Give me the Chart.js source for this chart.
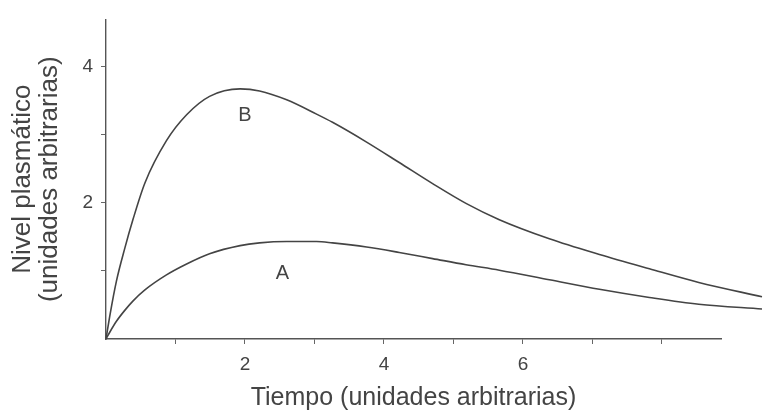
<!DOCTYPE html>
<html>
<head>
<meta charset="utf-8">
<script src="https://cdn.jsdelivr.net/npm/chart.js@4"></script>
<style>
  html, body { margin: 0; padding: 0; background: #fff; }
  #wrap { width: 763px; height: 417px; }
</style>
</head>
<body>
<div id="wrap"><canvas id="chart"></canvas></div>
<script>
// time points (arbitrary units)
const tiempo = [0, 0.06, 0.15, 0.27, 0.39, 0.56, 0.87, 1.16, 1.49, 1.93, 2.21, 2.6, 3.03, 3.26, 3.75, 4.22, 4.7, 5.18, 5.66, 6.38, 7.1, 7.82, 8.53, 9.44];
const nivelA = [0, 0.11, 0.26, 0.42, 0.56, 0.72, 0.94, 1.10, 1.25, 1.37, 1.41, 1.43, 1.43, 1.41, 1.35, 1.27, 1.18, 1.09, 1.01, 0.87, 0.73, 0.61, 0.51, 0.44];
const nivelB = [0, 0.37, 0.85, 1.33, 1.76, 2.29, 2.91, 3.29, 3.56, 3.67, 3.64, 3.51, 3.30, 3.18, 2.89, 2.59, 2.28, 1.99, 1.75, 1.47, 1.24, 1.03, 0.83, 0.62];

const xTicks = [1, 2, 3, 4, 5, 6, 7, 8];
const xLabels = [2, 4, 6];
const yTicks = [1, 2, 3, 4];
const yLabels = [2, 4];

// curve names drawn inside the plot
const curveNames = ["A", "B"];
const namePosX = [2.54, 2.0];
const namePosY = [0.96, 3.28];

const xEnd = 8.85;  // drawn time axis stops here, curves run on past it
const yEnd = 4.69;

Chart.defaults.font.family = '"Liberation Sans", Arial, Helvetica, sans-serif';
Chart.defaults.color = "#444";

const ink = "#444";

const curveNamesPlugin = {
    id: "curveNames",
    afterDatasetsDraw(chart) {
        const { ctx, scales: { x, y } } = chart;
        ctx.save();
        ctx.font = '20px "Liberation Sans", Arial, sans-serif';
        ctx.fillStyle = "#444";
        ctx.textAlign = "center";
        ctx.textBaseline = "middle";
        curveNames.forEach((name, i) => {
            ctx.fillText(name, x.getPixelForValue(namePosX[i]), y.getPixelForValue(namePosY[i]));
        });
        ctx.restore();
    }
};

function toPoints(values) {
    return tiempo.map((t, i) => ({ x: t, y: values[i] }));
}

new Chart(document.getElementById("chart"), {
    type: "line",
    data: {
        datasets: [
            { label: "A", data: toPoints(nivelA) },
            { label: "B", data: toPoints(nivelB) }
        ].map(ds => Object.assign(ds, {
            borderColor: ink,
            borderWidth: 1.6,
            pointRadius: 0,
            fill: false,
            cubicInterpolationMode: "monotone",
            clip: false
        }))
    },
    options: {
        responsive: true,
        maintainAspectRatio: false,
        animation: false,
        devicePixelRatio: 1,
        layout: { padding: { top: 13, right: 42, left: 0, bottom: 0 } },
        plugins: {
            legend: { display: false },
            tooltip: { enabled: false }
        },
        scales: {
            x: {
                type: "linear",
                bounds: "data",
                afterDataLimits: s => { s.min = 0; s.max = xEnd; },
                afterBuildTicks: s => { s.ticks = xTicks.map(v => ({ value: v })); },
                afterFit: s => { s.height = 78; },
                ticks: {
                    autoSkip: false,
                    maxRotation: 0,
                    padding: 9,
                    color: "#444",
                    font: { size: 19 },
                    callback: v => xLabels.includes(v) ? String(v) : ""
                },
                grid: { drawOnChartArea: false, drawTicks: true, tickLength: 5, color: "#666" },
                border: { color: "#555", width: 1.4 },
                title: {
                    display: true,
                    text: "Tiempo (unidades arbitrarias)",
                    color: "#444",
                    font: { size: 25, lineHeight: 1.2 },
                    padding: { top: 0, bottom: 4 }
                }
            },
            y: {
                type: "linear",
                bounds: "data",
                min: 0,
                max: yEnd,
                afterBuildTicks: s => { s.ticks = yTicks.map(v => ({ value: v })); },
                afterFit: s => { s.width = 106; },
                ticks: {
                    autoSkip: false,
                    padding: 8,
                    color: "#444",
                    font: { size: 19 },
                    callback: v => yLabels.includes(v) ? String(v) : ""
                },
                grid: { drawOnChartArea: false, drawTicks: true, tickLength: 5, color: "#666" },
                border: { color: "#555", width: 1.4 },
                title: {
                    display: true,
                    text: ["Nivel plasmático", "(unidades arbitrarias)"],
                    color: "#444",
                    font: { size: 26, lineHeight: 1.04 },
                    padding: { top: 9.5, bottom: 0 }
                }
            }
        }
    },
    plugins: [curveNamesPlugin]
});
</script>
</body>
</html>
